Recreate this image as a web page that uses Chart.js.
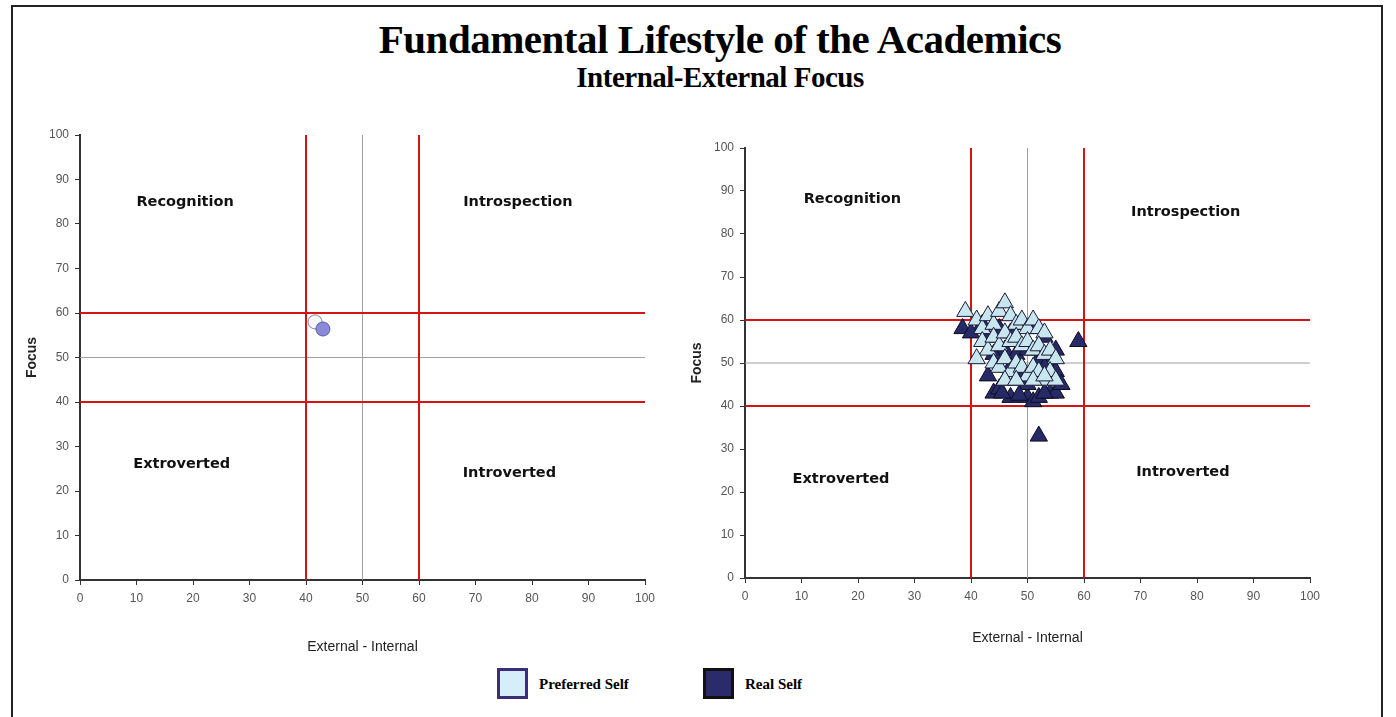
<!DOCTYPE html>
<html>
<head>
<meta charset="utf-8">
<script src="https://cdn.jsdelivr.net/npm/chart.js@4"></script>
<style>
  body { margin: 0; background: #fff; width: 1396px; height: 717px; overflow: hidden; position: relative; }
  #frame { position: absolute; left: 11px; top: 5px; width: 1372px; height: 716px; border: 2px solid #222; box-sizing: border-box; }
  #title { position: absolute; left: 0; width: 1440px; top: 15px; text-align: center; font-family: "Liberation Serif", serif; font-weight: bold; font-size: 41px; color: #000; letter-spacing: -0.5px; }
  #subtitle { position: absolute; left: 0; width: 1440px; top: 61px; text-align: center; font-family: "Liberation Serif", serif; font-weight: bold; font-size: 29px; color: #000; letter-spacing: -0.5px; }
  .box { position: absolute; }
  #legend { position: absolute; top: 668px; left: 497px; font-family: "Liberation Serif", serif; font-weight: bold; font-size: 15px; }
  .item { position: absolute; white-space: nowrap; }
  .sw { position: absolute; width: 25px; height: 25px; border: 3px solid; }
  .lbl { position: absolute; left: 42px; top: 8px; }
</style>
</head>
<body>
<div id="frame"></div>
<div id="title">Fundamental Lifestyle of the Academics</div>
<div id="subtitle">Internal-External Focus</div>
<div class="box" style="left:20px;top:120px;width:650px;height:540px;"><canvas id="left"></canvas></div>
<div class="box" style="left:685px;top:130px;width:650px;height:530px;"><canvas id="right"></canvas></div>
<div id="legend">
  <div class="item" style="left:0;top:0;"><div class="sw" style="background:#d4eefa;border-color:#3b2d7a;"></div><span class="lbl">Preferred Self</span></div>
  <div class="item" style="left:206px;top:0;"><div class="sw" style="background:#2b2b6b;border-color:#111;"></div><span class="lbl">Real Self</span></div>
</div>
<script>
// values
const seriesNames = ['Preferred Self', 'Real Self'];
const quadrantNames = ['Recognition', 'Introspection', 'Extroverted', 'Introverted'];
const redCuts = [40, 60];
const midCut = 50;

// left chart: group averages
const leftPreferred = [[41.6, 58]];
const leftReal = [[43, 56.4]];

// right chart: individual academics
const rightPreferred = [
  [39, 62], [41, 60], [42, 58], [43, 61], [44, 59], [45, 62], [46, 64], [47, 61], [48, 59], [49, 60],
  [50, 58], [51, 60], [52, 58], [53, 57], [42, 55], [43, 53], [44, 56], [45, 54], [46, 57], [47, 55],
  [48, 56], [49, 54], [50, 55], [51, 53], [52, 54], [53, 52], [54, 53], [55, 51], [41, 51], [44, 50],
  [45, 49], [46, 51], [47, 48], [48, 50], [49, 49], [50, 47], [51, 49], [52, 48], [53, 46], [54, 48],
  [55, 46], [46, 46], [48, 46], [51, 46], [53, 47]
];
const rightReal = [
  [38.5, 58], [59, 55], [52, 33], [44, 43], [45, 44], [47, 42], [50, 42], [51, 41], [52, 42], [54, 43],
  [55, 43], [43, 56], [45, 58], [47, 57], [49, 59], [51, 59], [53, 56], [46, 53], [48, 52], [50, 53],
  [52, 51], [54, 50], [47, 49], [49, 47], [51, 48], [53, 49], [46, 46], [48, 46], [50, 45], [44, 52],
  [42, 59], [55, 48], [40, 57], [45.5, 43], [48.5, 42.5], [53, 43], [56, 45], [43, 47], [55, 53]
];

// quadrant caption anchors, in axis units
const leftCaptionAt = [[18.6, 85], [77.5, 85], [18, 26], [76, 24]];
const rightCaptionAt = [[19, 88], [78, 85], [17, 23], [77.5, 24.6]];

const toPts = arr => arr.map(p => ({ x: p[0], y: p[1] }));

function refLines() {
  const sets = [];
  redCuts.forEach(c => {
    sets.push({ data: [{ x: c, y: 0 }, { x: c, y: 100 }], borderColor: '#d41414', borderWidth: 2, showLine: true, pointRadius: 0, order: 10 });
    sets.push({ data: [{ x: 0, y: c }, { x: 100, y: c }], borderColor: '#d41414', borderWidth: 2, showLine: true, pointRadius: 0, order: 10 });
  });
  sets.push({ data: [{ x: midCut, y: 0 }, { x: midCut, y: 100 }], borderColor: '#a0a0a0', borderWidth: 1, showLine: true, pointRadius: 0, order: 11 });
  sets.push({ data: [{ x: 0, y: midCut }, { x: 100, y: midCut }], borderColor: '#a0a0a0', borderWidth: 1, showLine: true, pointRadius: 0, order: 11 });
  return sets;
}

const captions = {
  id: 'captions',
  afterDatasetsDraw(chart, args, opts) {
    const ctx = chart.ctx;
    ctx.save();
    ctx.font = 'bold 14.5px "DejaVu Sans", sans-serif';
    ctx.fillStyle = '#111';
    ctx.textAlign = 'center';
    ctx.textBaseline = 'middle';
    opts.at.forEach((p, i) => {
      ctx.fillText(quadrantNames[i], chart.scales.x.getPixelForValue(p[0]), chart.scales.y.getPixelForValue(p[1]));
    });
    ctx.restore();
  }
};

function axis(title, fitSize, isY, titleBottom) {
  return {
    type: 'linear', min: 0, max: 100,
    ticks: { stepSize: 10, color: '#555', font: { family: 'Arial, "Liberation Sans"', size: 12 }, padding: 6 },
    grid: { drawOnChartArea: false, color: '#333', tickLength: 5 },
    border: { color: '#333', width: 2 },
    title: { display: true, text: title, color: '#222', font: { family: 'Arial, "Liberation Sans"', size: 14, weight: isY ? 'bold' : 'normal' }, padding: isY ? 4 : { top: 10, bottom: titleBottom } },
    afterFit(s) { if (isY) s.width = fitSize; else s.height = fitSize; }
  };
}

function makeChart(id, sets, captionAt, yFit, xFit, titleBottom, pad) {
  new Chart(document.getElementById(id), {
    type: 'scatter',
    data: { datasets: sets.concat(refLines()) },
    options: {
      responsive: true, maintainAspectRatio: false, animation: false,
      layout: { padding: pad },
      plugins: { legend: { display: false }, tooltip: { enabled: false }, captions: { at: captionAt } },
      scales: { x: axis('External - Internal', xFit, false, titleBottom), y: axis('Focus', yFit, true) }
    },
    plugins: [captions]
  });
}

makeChart('left', [
  { label: seriesNames[0], data: toPts(leftPreferred), pointStyle: 'circle', pointRadius: 7, backgroundColor: '#f4f6fa', borderColor: '#888', borderWidth: 1, order: 1 },
  { label: seriesNames[1], data: toPts(leftReal), pointStyle: 'circle', pointRadius: 7, backgroundColor: '#8a8ad8', borderColor: '#5a5aa8', borderWidth: 1, order: 0 }
], leftCaptionAt, 60, 80, 4, { top: 15, right: 25 });

makeChart('right', [
  { label: seriesNames[0], data: toPts(rightPreferred), pointStyle: 'triangle', pointRadius: 10, backgroundColor: '#c8e6ee', borderColor: '#1a1a3a', borderWidth: 1, order: 0 },
  { label: seriesNames[1], data: toPts(rightReal), pointStyle: 'triangle', pointRadius: 10, backgroundColor: '#262a66', borderColor: '#0d0d22', borderWidth: 1, order: 1 }
], rightCaptionAt, 60, 82, 13, { top: 18, right: 25 });
</script>
</body>
</html>
